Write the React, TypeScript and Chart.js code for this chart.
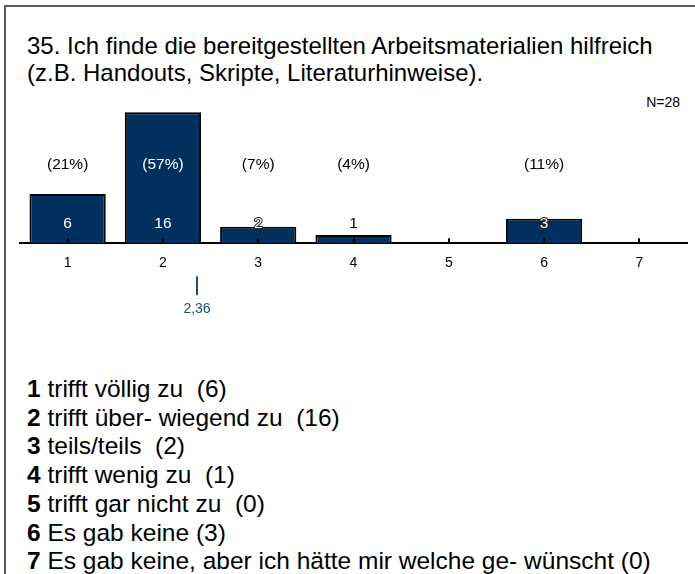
import React, { useEffect, useRef } from "react";
import { Chart, registerables } from "chart.js";

Chart.register(...registerables);

const titleLines = [
  "35. Ich finde die bereitgestellten Arbeitsmaterialien hilfreich",
  "(z.B. Handouts, Skripte, Literaturhinweise).",
];
const categories = ["1", "2", "3", "4", "5", "6", "7"];
const counts = [6, 16, 2, 1, 0, 3, 0];
const answerLabels = [
  "trifft völlig zu ",
  "trifft über- wiegend zu ",
  "teils/teils ",
  "trifft wenig zu ",
  "trifft gar nicht zu ",
  "Es gab keine",
  "Es gab keine, aber ich hätte mir welche ge- wünscht",
];

const total = counts.reduce((s, v) => s + v, 0);
const meanValue = counts.reduce((s, v, i) => s + v * (i + 1), 0) / total;

const FONT = "'Liberation Sans', Arial, sans-serif";
const BAR_COLOR = "#00305e";
const MEAN_COLOR = "#1f4e79";

const overlayPlugin = {
  id: "overlay",
  afterDatasetsDraw(chart: any) {
    const { ctx, chartArea } = chart;
    const xs = chart.scales.x;
    const ys = chart.scales.y;
    const base = ys.getPixelForValue(0);
    ctx.save();
    // upward tick marks
    ctx.strokeStyle = "#000";
    ctx.lineWidth = 2;
    categories.forEach((_, i) => {
      const x = Math.round(xs.getPixelForValue(i));
      ctx.beginPath();
      ctx.moveTo(x, base);
      ctx.lineTo(x, base - 5);
      ctx.stroke();
    });
    ctx.textAlign = "center";
    ctx.textBaseline = "middle";
    ctx.font = `15.5px ${FONT}`;
    counts.forEach((v, i) => {
      if (v === 0) return;
      const x = xs.getPixelForValue(i);
      const top = ys.getPixelForValue(v);
      // percentage
      const pctY = 165 - 104 + chartArea.top;
      const pct = `(${Math.round((v / total) * 100)}%)`;
      ctx.fillStyle = top < pctY - 8 ? "#fff" : "#000";
      ctx.fillText(pct, x, pctY);
      // count
      const cY = base - 19;
      const h = base - top;
      if (h >= 28) {
        ctx.fillStyle = "#fff";
        ctx.fillText(String(v), x, cY);
      } else if (h >= 12) {
        ctx.lineWidth = 2;
        ctx.strokeStyle = "#222";
        ctx.strokeText(String(v), x, cY);
        ctx.fillStyle = "#fff";
        ctx.fillText(String(v), x, cY);
      } else {
        ctx.fillStyle = "#000";
        ctx.fillText(String(v), x, cY);
      }
    });
    ctx.restore();
  },
  afterDraw(chart: any) {
    const { ctx } = chart;
    const xs = chart.scales.x;
    const ys = chart.scales.y;
    const base = ys.getPixelForValue(0);
    const mx = Math.round(xs.getPixelForValue(meanValue - 1));
    ctx.save();
    ctx.strokeStyle = MEAN_COLOR;
    ctx.lineWidth = 2;
    ctx.beginPath();
    ctx.moveTo(mx, base + 33);
    ctx.lineTo(mx, base + 52);
    ctx.stroke();
    ctx.fillStyle = MEAN_COLOR;
    ctx.font = `14px ${FONT}`;
    ctx.textAlign = "center";
    ctx.textBaseline = "middle";
    ctx.fillText(meanValue.toFixed(2).replace(".", ","), mx, base + 66);
    ctx.restore();
  },
};

function BarChart() {
  const ref = useRef<HTMLCanvasElement | null>(null);
  useEffect(() => {
    if (!ref.current) return;
    const chart = new Chart(ref.current, {
      type: "bar",
      data: {
        labels: categories,
        datasets: [
          {
            data: counts,
            backgroundColor: BAR_COLOR,
            borderColor: "#000",
            borderWidth: 2,
            categoryPercentage: 1,
            barPercentage: 0.8,
          },
        ],
      },
      options: {
        animation: false,
        responsive: false,
        maintainAspectRatio: false,
        layout: { padding: { left: 20, right: 8, top: 4, bottom: 46 } },
        plugins: { legend: { display: false }, tooltip: { enabled: false }, title: { display: false } },
        scales: {
          x: {
            grid: { display: false, drawTicks: false },
            border: { display: true, color: "#000", width: 2 },
            ticks: { color: "#000", font: { family: FONT, size: 14 }, padding: 12 },
          },
          y: { display: false, min: 0, max: 17 },
        },
      },
      plugins: [overlayPlugin],
    });
    return () => chart.destroy();
  }, []);
  return (
    <canvas
      ref={ref}
      width={695}
      height={230}
      style={{ position: "absolute", left: 0, top: 100, width: 695, height: 230 }}
    />
  );
}

export default function App() {
  return (
    <div
      style={{
        position: "absolute",
        left: 0,
        top: 0,
        width: 695,
        height: 574,
        background: "#fff",
        overflow: "hidden",
        fontFamily: FONT,
        color: "#000",
      }}
    >
      <div style={{ position: "absolute", left: 4, top: 5, width: 691, height: 2, background: "#5a5a5a" }} />
      <div style={{ position: "absolute", left: 4, top: 5, width: 2, height: 569, background: "#5a5a5a" }} />
      <div style={{ position: "absolute", left: 27, top: 32, fontSize: 24, lineHeight: "27px", whiteSpace: "nowrap" }}>
        {titleLines.map((t, i) => (
          <div key={i}>{t}</div>
        ))}
      </div>
      <div style={{ position: "absolute", right: 15, top: 94, fontSize: 14, lineHeight: "16px" }}>N={total}</div>
      <BarChart />
      <div style={{ position: "absolute", left: 27, top: 375, fontSize: 24.5, lineHeight: "28.7px" }}>
        {answerLabels.map((t, i) => (
          <div key={i} style={{ whiteSpace: "pre" }}>
            <b>{categories[i]}</b>
            {" " + t + " (" + counts[i] + ")"}
          </div>
        ))}
      </div>
    </div>
  );
}
